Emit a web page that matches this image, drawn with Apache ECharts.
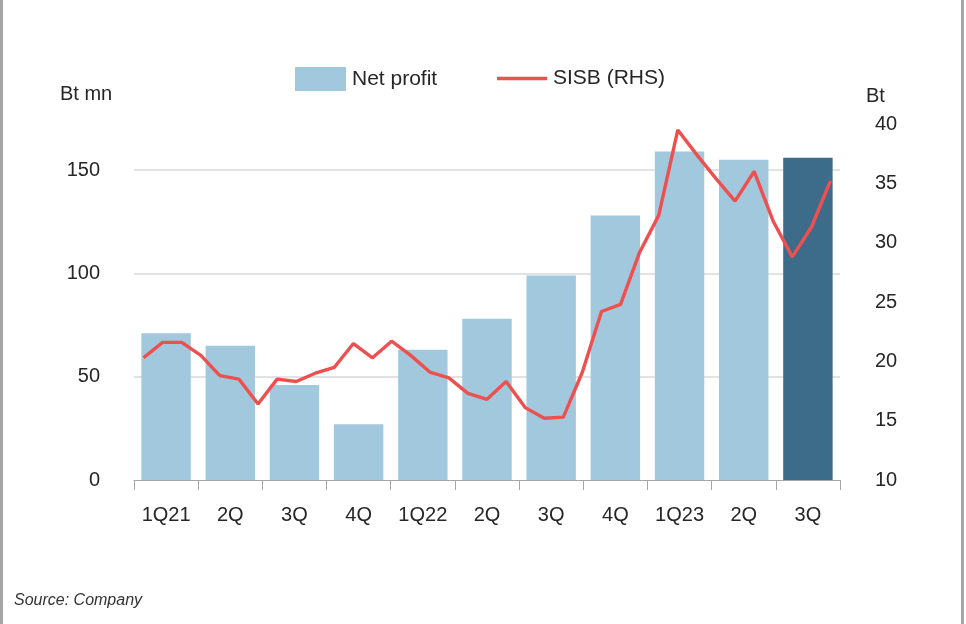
<!DOCTYPE html>
<html>
<head>
<meta charset="utf-8">
<script src="https://cdn.jsdelivr.net/npm/echarts@6/dist/echarts.min.js"></script>
<style>
html,body{margin:0;padding:0;background:#fff;}
#chart{width:966px;height:624px;}
</style>
</head>
<body>
<div id="chart"></div>
<script>
// Quarter categories and net profit (Bt mn)
const quarters = ['1Q21','2Q','3Q','4Q','1Q22','2Q','3Q','4Q','1Q23','2Q','3Q'];
const netProfit = [71, 65, 46, 27, 63, 78, 99, 128, 159, 155, 156];
// SISB share price (Bt), plotted across the same width
const sisbPrice = [20.3, 21.6, 21.6, 20.5, 18.8, 18.5, 16.4, 18.5, 18.3, 19.0,
  19.5, 21.5, 20.3, 21.7, 20.5, 19.1, 18.6, 17.3, 16.8, 18.3,
  16.1, 15.2, 15.3, 19.1, 24.2, 24.8, 29.2, 32.3, 39.5, 37.4,
  35.4, 33.5, 36.0, 31.8, 28.8, 31.3, 35.2];
const leftTicks = [0, 50, 100, 150];
const rightTicks = [10, 15, 20, 25, 30, 35, 40];

const FONT = 'Liberation Sans, Arial, sans-serif';
const TXT = '#262626';
const lightBlue = '#A1C8DC';
const darkBlue = '#3D6C8A';
const red = '#EE5050';

const chart = echarts.init(document.getElementById('chart'), null, {renderer: 'canvas'});
const lastIdx = netProfit.length - 1;

chart.setOption({
  animation: false,
  backgroundColor: '#fff',
  textStyle: {fontFamily: FONT},
  grid: {left: 134, right: 126, top: 124, bottom: 144, containLabel: false},
  legend: [{
    left: 295, top: 67, padding: 0,
    itemWidth: 51, itemHeight: 24,
    textStyle: {fontSize: 21, color: TXT, fontFamily: FONT, padding: [0, 0, 4, 1]},
    data: [{name: 'Net profit', icon: 'rect'}]
  }, {
    left: 497, top: 68, padding: 0,
    itemWidth: 50, itemHeight: 3.5,
    textStyle: {fontSize: 21, color: TXT, fontFamily: FONT, padding: [0, 0, 2, 1]},
    data: [{name: 'SISB (RHS)', icon: 'rect'}]
  }],
  xAxis: [{
    type: 'category', data: quarters,
    axisLine: {lineStyle: {color: '#A6A6A6', width: 1}},
    axisTick: {show: true, length: 10, alignWithLabel: false, lineStyle: {color: '#A6A6A6'}},
    axisLabel: {fontSize: 20, color: TXT, margin: 25, fontFamily: FONT, interval: 0},
    splitLine: {show: false}
  }, {
    type: 'category', data: sisbPrice.map((_, i) => i), show: false, boundaryGap: true
  }],
  yAxis: [{
    type: 'value', min: leftTicks[0], max: 172.3, interval: 50,
    axisLine: {show: false}, axisTick: {show: false},
    axisLabel: {fontSize: 20, color: TXT, margin: 34, fontFamily: FONT, showMaxLabel: false,
      formatter: v => leftTicks.includes(v) ? String(v) : ''},
    splitLine: {show: true, showMinLine: false, showMaxLine: false, lineStyle: {color: '#D9D9D9', width: 1.5}}
  }, {
    type: 'value', min: rightTicks[0], max: rightTicks[rightTicks.length - 1], interval: 5,
    axisLine: {show: false}, axisTick: {show: false},
    axisLabel: {fontSize: 20, color: TXT, margin: 35, fontFamily: FONT},
    splitLine: {show: false}
  }],
  series: [{
    name: 'Net profit', type: 'bar', xAxisIndex: 0, yAxisIndex: 0,
    barWidth: '77%',
    itemStyle: {color: lightBlue},
    data: netProfit.map((v, i) => i === lastIdx ? {value: v, itemStyle: {color: darkBlue}} : v)
  }, {
    name: 'SISB (RHS)', type: 'line', xAxisIndex: 1, yAxisIndex: 1,
    symbol: 'none', smooth: false,
    lineStyle: {color: red, width: 3.4},
    itemStyle: {color: red},
    data: sisbPrice
  }],
  graphic: [
    {type: 'text', left: 60, top: 84, style: {text: 'Bt mn', fontSize: 20, fill: TXT, fontFamily: FONT}},
    {type: 'text', left: 866, top: 86, style: {text: 'Bt', fontSize: 20, fill: TXT, fontFamily: FONT}},
    {type: 'text', left: 14, top: 593, style: {text: 'Source: Company', fontSize: 16, fontStyle: 'italic', fill: '#333', fontFamily: FONT}},
    {type: 'rect', left: 0, top: 0, shape: {width: 3, height: 624}, style: {fill: '#A6A6A6'}},
    {type: 'rect', left: 961, top: 0, shape: {width: 3, height: 624}, style: {fill: '#A6A6A6'}}
  ]
});
</script>
</body>
</html>
